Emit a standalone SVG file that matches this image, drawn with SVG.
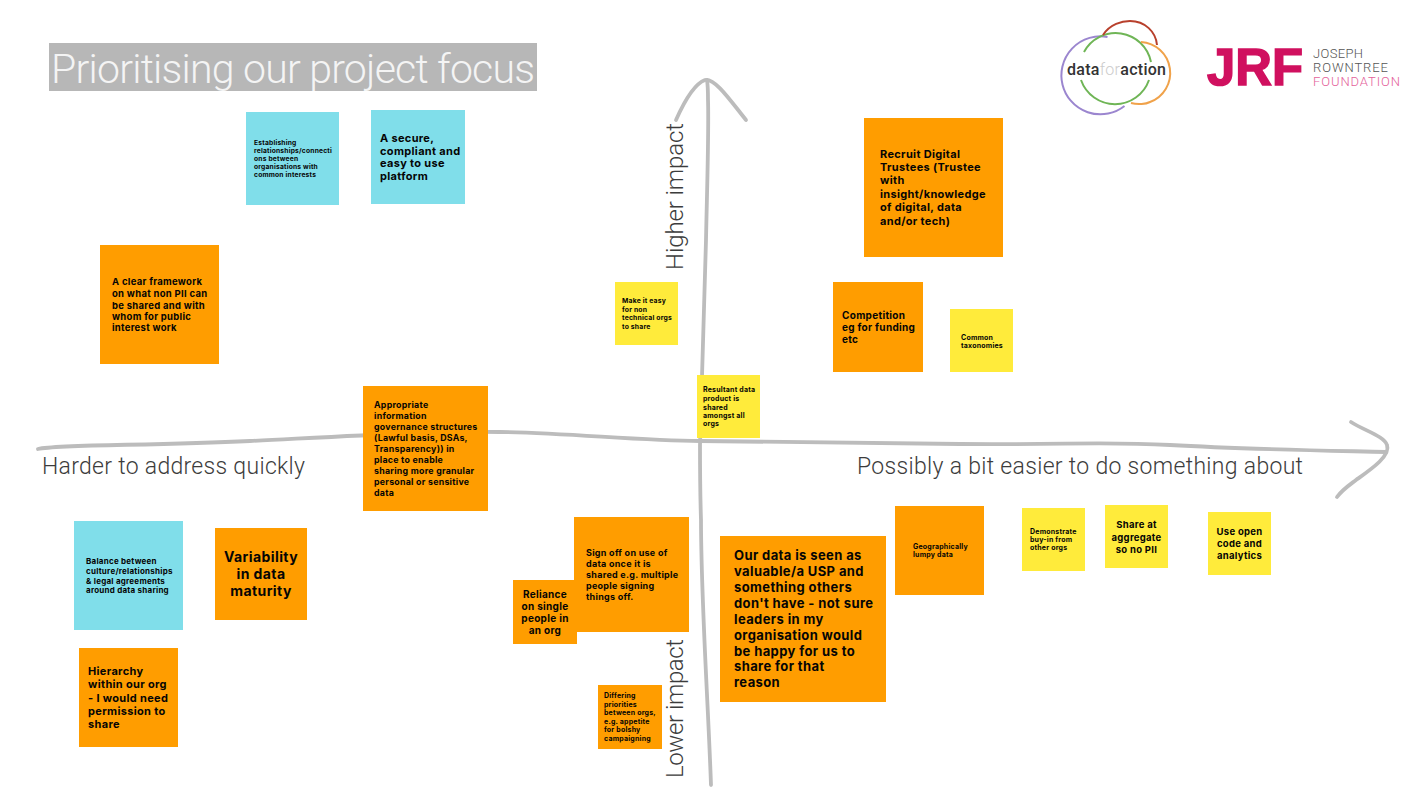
<svg xmlns="http://www.w3.org/2000/svg" width="1422" height="800" viewBox="0 0 1422 800">
<style>
text{font-family:"Inter","Noto Sans","Liberation Sans",sans-serif;font-weight:700;fill:#050505;letter-spacing:.03em}
.o{fill:#ff9d00}.b{fill:#80deea}.y{fill:#ffeb3b}
.ax{fill:none;stroke:#bcbcbc;stroke-width:3.8;stroke-linecap:round;stroke-linejoin:round}
.lab{font-family:"Roboto","Liberation Sans",sans-serif;font-weight:300;fill:#3c3c3c;letter-spacing:0}
.c{text-anchor:middle}
.ring{fill:none;stroke-width:2}
.side{font-family:"Roboto","Liberation Sans",sans-serif;font-weight:300;fill:#555;letter-spacing:0}
</style>
<rect width="1422" height="800" fill="#fff"/>
<g id="title"><rect x="49" y="43" width="488" height="48" fill="#b7b7b7"/><text class="lab" x="51" y="83" font-size="41" textLength="484" style="fill:#f4f4f4">Prioritising our project focus</text></g>
<g id="connectors">
<path class="ax" d="M38 449C60 444 150 446 250 441S430 431 500 432S640 441 700 441S850 443 960 444S1100 441 1170 445S1300 450 1386 452"/>
<path class="ax" d="M1351 422C1365 431 1384 436 1387 445C1391 456 1370 470 1356 480C1348 486 1342 490 1337 497"/>
<path class="ax" d="M711 785C708 700 701 600 701 520C700 490 700 470 700 445C701 400 704 320 706 240C707 190 709 130 708 100C708 92 708 86 707 80"/>
<path class="ax" d="M676 120C684 102 694 84 705 80C715 78 730 100 746 120"/>
</g>
<g id="axis-labels">
<text class="lab" x="42" y="474" font-size="23" textLength="263">Harder to address quickly</text>
<text class="lab" x="857" y="474" font-size="23" textLength="446">Possibly a bit easier to do something about</text>
<text class="lab" transform="translate(683 270) rotate(-90)" font-size="24" textLength="147">Higher impact</text>
<text class="lab" transform="translate(683 778) rotate(-90)" font-size="24" textLength="139">Lower impact</text>
</g>
<g id="logo-dataforaction">
<path class="ring" stroke="#9b86cf" d="M1124.500 106A39 39 0 1 1 1107.500 37"/>
<path class="ring" stroke="#6fb556" d="M1084 52A36 36 0 0 1 1151 62M1149 80A36 36 0 0 1 1081 80"/>
<path class="ring" stroke="#b8402c" d="M1103 35C1110 24 1122 21 1130 21C1145 21 1156 32 1157 45"/>
<path class="ring" stroke="#f0a24a" d="M1141 42A31 31 0 0 1 1150 102C1146 104 1138 105 1131 103"/>
<text x="1067" y="75" font-size="16" textLength="99" style="font-family:Roboto,sans-serif;font-weight:500;fill:#333;letter-spacing:0">data<tspan style="fill:#ccc;font-weight:300">for</tspan>action</text>
</g>
<g id="logo-jrf">
<text x="1207" y="85" font-size="51" textLength="96" lengthAdjust="spacingAndGlyphs" stroke="#d0105f" stroke-width="1.5" style="font-family:'Liberation Sans',sans-serif;fill:#d0105f;letter-spacing:0">JRF</text>
<text class="side" x="1313" y="58" font-size="13" textLength="50">JOSEPH</text>
<text class="side" x="1313" y="72" font-size="13" textLength="75">ROWNTREE</text>
<text class="side" x="1313" y="86" font-size="13" textLength="87" style="fill:#e4619a">FOUNDATION</text>
</g>
<g id="n1"><rect class="b" x="246" y="112" width="93" height="93"/><g font-size="6.700"><text x="254" y="145">Establishing</text><text x="254" y="153">relationships/connecti</text><text x="254" y="161">ons between</text><text x="254" y="169">organisations with</text><text x="254" y="177">common interests</text></g></g>
<g id="n2"><rect class="b" x="371" y="110" width="94" height="94"/><g font-size="11"><text x="380" y="142">A secure,</text><text x="380" y="155">compliant and</text><text x="380" y="167">easy to use</text><text x="380" y="180">platform</text></g></g>
<g id="n3"><rect class="o" x="100" y="245" width="119" height="119"/><g font-size="9.500"><text x="112" y="285">A clear framework</text><text x="112" y="297">on what non PII can</text><text x="112" y="308.500">be shared and with</text><text x="112" y="320">whom for public</text><text x="112" y="331">interest work</text></g></g>
<g id="n4"><rect class="o" x="864" y="118" width="139" height="139"/><g font-size="11"><text x="880" y="158">Recruit Digital</text><text x="880" y="171">Trustees (Trustee</text><text x="880" y="184">with</text><text x="880" y="198">insight/knowledge</text><text x="880" y="211">of digital, data</text><text x="880" y="225">and/or tech)</text></g></g>
<g id="n5"><rect class="o" x="833" y="282" width="90" height="90"/><g font-size="10"><text x="842" y="319">Competition</text><text x="842" y="331">eg for funding</text><text x="842" y="343">etc</text></g></g>
<g id="n6"><rect class="y" x="950" y="309" width="63" height="63"/><g font-size="7"><text x="961" y="339.500">Common</text><text x="961" y="347.500">taxonomies</text></g></g>
<g id="n7"><rect class="y" x="615" y="282" width="63" height="63"/><g font-size="6.800"><text x="622" y="303">Make it easy</text><text x="622" y="312">for non</text><text x="622" y="320">technical orgs</text><text x="622" y="329">to share</text></g></g>
<g id="n8"><rect class="y" x="697" y="375" width="63" height="63"/><g font-size="7"><text x="703" y="392">Resultant data</text><text x="703" y="401">product is</text><text x="703" y="409.500">shared</text><text x="703" y="418">amongst all</text><text x="703" y="426">orgs</text></g></g>
<g id="n9"><rect class="o" x="363" y="386" width="125" height="125"/><g font-size="8.800"><text x="374" y="408">Appropriate</text><text x="374" y="419">information</text><text x="374" y="430">governance structures</text><text x="374" y="441">(Lawful basis, DSAs,</text><text x="374" y="452">Transparency)) in</text><text x="374" y="463">place to enable</text><text x="374" y="474">sharing more granular</text><text x="374" y="485">personal or sensitive</text><text x="374" y="496">data</text></g></g>
<g id="n10"><rect class="b" x="74" y="521" width="109" height="109"/><g font-size="8"><text x="86" y="564">Balance between</text><text x="86" y="574">culture/relationships</text><text x="86" y="584">&amp; legal agreements</text><text x="86" y="593">around data sharing</text></g></g>
<g id="n11"><rect class="o" x="215" y="528" width="92" height="92"/><g font-size="14"><text class="c" x="261" y="562">Variability</text><text class="c" x="261" y="579">in data</text><text class="c" x="261" y="596">maturity</text></g></g>
<g id="n12"><rect class="o" x="79" y="648" width="99" height="99"/><g font-size="11"><text x="88" y="675">Hierarchy</text><text x="88" y="688">within our org</text><text x="88" y="702">- I would need</text><text x="88" y="715">permission to</text><text x="88" y="728">share</text></g></g>
<g id="n13"><rect class="o" x="574" y="517" width="115" height="115"/><g font-size="9"><text x="586" y="556">Sign off on use of</text><text x="586" y="567">data once it is</text><text x="586" y="578">shared e.g. multiple</text><text x="586" y="589">people signing</text><text x="586" y="600">things off.</text></g></g>
<g id="n14"><rect class="o" x="513" y="580" width="64" height="64"/><g font-size="10"><text class="c" x="545" y="598">Reliance</text><text class="c" x="545" y="610">on single</text><text class="c" x="545" y="622">people in</text><text class="c" x="545" y="634">an org</text></g></g>
<g id="n15"><rect class="o" x="598" y="685" width="64" height="64"/><g font-size="7"><text x="604" y="698">Differing</text><text x="604" y="706.500">priorities</text><text x="604" y="715">between orgs,</text><text x="604" y="724">e.g. appetite</text><text x="604" y="732">for bolshy</text><text x="604" y="741">campaigning</text></g></g>
<g id="n16"><rect class="o" x="720" y="536" width="166" height="166"/><g font-size="13"><text x="734" y="560">Our data is seen as</text><text x="734" y="576">valuable/a USP and</text><text x="734" y="592">something others</text><text x="734" y="608">don't have - not sure</text><text x="734" y="624">leaders in my</text><text x="734" y="640">organisation would</text><text x="734" y="656">be happy for us to</text><text x="734" y="671">share for that</text><text x="734" y="687">reason</text></g></g>
<g id="n17"><rect class="o" x="895" y="506" width="89" height="89"/><g font-size="7"><text x="913" y="549">Geographically</text><text x="913" y="557">lumpy data</text></g></g>
<g id="n18"><rect class="y" x="1022" y="508" width="63" height="63"/><g font-size="7"><text x="1030" y="534">Demonstrate</text><text x="1030" y="542">buy-in from</text><text x="1030" y="550">other orgs</text></g></g>
<g id="n19"><rect class="y" x="1105" y="505" width="63" height="63"/><g font-size="9.500"><text class="c" x="1136.500" y="528">Share at</text><text class="c" x="1136.500" y="540.500">aggregate</text><text class="c" x="1136.500" y="553">so no PII</text></g></g>
<g id="n20"><rect class="y" x="1208" y="512" width="63" height="63"/><g font-size="9.500"><text class="c" x="1239.500" y="535">Use open</text><text class="c" x="1239.500" y="547">code and</text><text class="c" x="1239.500" y="559">analytics</text></g></g>
</svg>
